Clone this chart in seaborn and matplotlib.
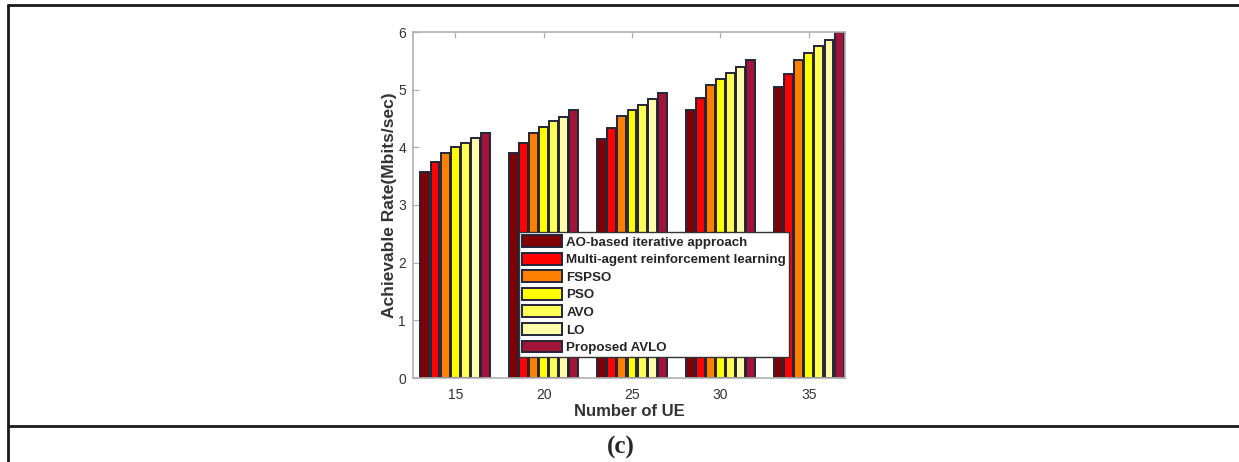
import matplotlib
matplotlib.use("Agg")
import matplotlib.pyplot as plt
import seaborn as sns
import pandas as pd
from matplotlib.lines import Line2D

# ---- data ----
ue_counts = ["15", "20", "25", "30", "35"]
methods = ["AO-based iterative approach", "Multi-agent reinforcement learning",
           "FSPSO", "PSO", "AVO", "LO", "Proposed AVLO"]
ao_based = [3.57, 3.90, 4.15, 4.64, 5.04]
marl = [3.75, 4.08, 4.34, 4.86, 5.28]
fspso = [3.91, 4.25, 4.54, 5.08, 5.52]
pso = [4.00, 4.35, 4.64, 5.19, 5.64]
avo = [4.08, 4.45, 4.73, 5.29, 5.75]
lo = [4.16, 4.53, 4.83, 5.39, 5.86]
avlo = [4.25, 4.64, 4.94, 5.52, 6.00]
series = [ao_based, marl, fspso, pso, avo, lo, avlo]
colors = ["#800000", "#FF0000", "#FF8000", "#FFFF00", "#FFFF55", "#FFFFAA", "#A01538"]
yticks = [0, 1, 2, 3, 4, 5, 6]

rows = []
for m, vals in zip(methods, series):
    for ue, v in zip(ue_counts, vals):
        rows.append({"UE": ue, "Method": m, "Rate": v})
df = pd.DataFrame(rows)

sns.set_theme(style="white")
plt.rcParams["font.family"] = ["Liberation Sans", "DejaVu Sans"]

W, H = 1239, 462
fig = plt.figure(figsize=(W / 100, H / 100), dpi=100)
ax = fig.add_axes([413 / W, (H - 378) / H, (845 - 413) / W, (378 - 32) / H])

sns.barplot(data=df, x="UE", y="Rate", hue="Method", hue_order=methods,
            order=ue_counts, palette=colors, width=0.8, gap=0.12,
            edgecolor="#25253a", linewidth=1.4, saturation=1, ax=ax)

ax.set_xlim(-0.478, 4.41)
ax.set_ylim(0, 6)
ax.set_yticks(yticks)
ax.set_yticklabels([str(t) for t in yticks])

spine_col = "#b0b0b0"
for s in ax.spines.values():
    s.set_visible(True)
    s.set_color(spine_col)
    s.set_linewidth(1.2)
ax.tick_params(axis="both", direction="in", length=4, width=0.9, color=spine_col,
               labelsize=10, labelcolor="#333333", top=True, right=True,
               left=True, bottom=True, pad=5)
ax.tick_params(axis="x", pad=7)

ax.set_xlabel("Number of UE", fontsize=12, fontweight="bold", color="#333333")
ax.set_ylabel("Achievable Rate(Mbits/sec)", fontsize=12.5, fontweight="bold", color="#333333")
ax.xaxis.set_label_coords(0.5, -0.075)
ax.yaxis.set_label_coords(-0.038, 0.5)

leg = ax.legend(loc="upper left", bbox_to_anchor=(0.245, 0.422),
                prop={"weight": "bold", "size": 9.6}, frameon=True, fancybox=False,
                framealpha=1, edgecolor="#333333", borderpad=0.25,
                labelspacing=0.3, handlelength=3.0, handleheight=1.0,
                handletextpad=0.3, borderaxespad=0)
leg.get_frame().set_linewidth(1.0)
for h in leg.legend_handles:
    h.set_edgecolor("#25253a")
    h.set_linewidth(1.4)

# ---- surrounding table frame ----
lc = "#1a1a1a"
fig.add_artist(Line2D([8 / W, 1.0], [1 - 5 / H, 1 - 5 / H], color=lc, lw=2.0,
                      transform=fig.transFigure))
fig.add_artist(Line2D([8 / W, 8 / W], [0.0, 1 - 5 / H], color=lc, lw=2.0,
                      transform=fig.transFigure))
fig.add_artist(Line2D([8 / W, 1.0], [1 - 426 / H, 1 - 426 / H], color=lc, lw=2.0,
                      transform=fig.transFigure))
fig.text(621 / W, 1 - 447 / H, "(c)", ha="center", va="center", fontsize=18,
         fontweight="bold", family=["Liberation Serif", "DejaVu Serif"])

fig.savefig("out.png", dpi=100)
